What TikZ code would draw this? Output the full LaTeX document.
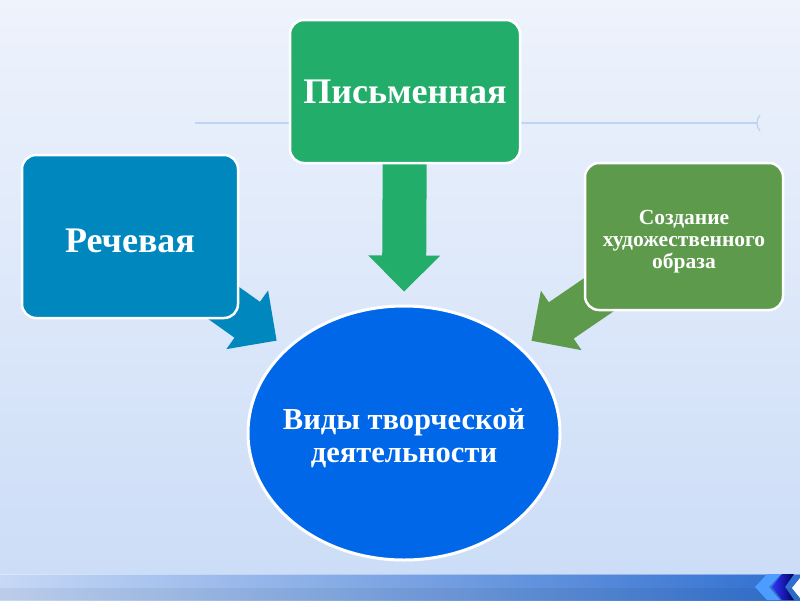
\documentclass[tikz,border=0pt]{standalone}
\usepackage{fontspec}
\setmainfont{Liberation Serif}
\usetikzlibrary{arrows.meta,calc,shapes.geometric}
\definecolor{bgtop}{HTML}{EEF3FC}
\definecolor{bgbottom}{HTML}{CCDDF7}
\definecolor{rulecol}{HTML}{BFD3F3}
\definecolor{barleft}{HTML}{C6D8F6}
\definecolor{barright}{HTML}{2F6FD0}
\definecolor{piscol}{HTML}{23AD6A}
\definecolor{rechcol}{HTML}{0087BE}
\definecolor{sozdcol}{HTML}{5E9A4B}
\definecolor{vidcol}{HTML}{0068E8}
\pgfdeclarelayer{back}
\pgfdeclarelayer{links}
\pgfsetlayers{back,links,main}
% block arrow: #1 colour, #2 tail node, #3 tip coordinate
\newcommand\fatlink[3]{%
  \fill[#1] ($(#2)!22pt!90:(#3)$) -- ($(#3)!36pt!(#2)!22pt!90:(#3)$) -- ($(#3)!36pt!(#2)!36pt!90:(#3)$)
    -- (#3) -- ($(#3)!36pt!(#2)!36pt!-90:(#3)$) -- ($(#3)!36pt!(#2)!22pt!-90:(#3)$) -- ($(#2)!22pt!-90:(#3)$) -- cycle;}

\begin{document}
\begin{tikzpicture}[x=1pt,y=-1pt,line cap=round,line join=round,
    box/.style={draw=white,line width=2.5pt,rounded corners=14pt,text=white,align=center,inner sep=0pt}]
    \useasboundingbox (0,0) rectangle (800,600);

    % slide background
    \begin{pgfonlayer}{back}
      \shade[top color=bgtop,bottom color=bgbottom] (0,0) rectangle (800,574);
      \draw[rulecol,line width=1.3pt] (195,123) -- (757,123);
      \draw[rulecol,line width=1.3pt] (760,115) .. controls (756,119) and (756,127) .. (760,131);
      \shade[left color=barleft,right color=barright] (0,574) rectangle (800,600);
      \fill[black,opacity=0.05] (0,588) rectangle (800,600);
      \draw[white,opacity=0.4,line width=0.8pt] (0,574) -- (800,574);
      \fill[blue!55!cyan!70!white] (767,574) -- (755,587) -- (767,600) -- (780,600) -- (769,587) -- (781,574) -- cycle;
      \shade[left color=blue!80!white,right color=blue!40!black] (782,574) -- (772,587) -- (782,600) -- (794,600) -- (785,587) -- (794,574) -- cycle;
      \fill[white] (800,578) -- (792,588) -- (800,598) -- cycle;
    \end{pgfonlayer}

    \node[box,fill=piscol,minimum width=230pt,minimum height=143pt,font=\bfseries\fontsize{36}{40}\selectfont] (pis) at (405,91.5) {Письменная};
    \node[box,fill=rechcol,minimum width=216pt,minimum height=163pt] (rech) at (130,236.5) {};
    \node[text=white,font=\bfseries\fontsize{36}{40}\selectfont] (rechtext) at ([yshift=-4pt]rech.center) {Речевая};
    \node[box,fill=sozdcol,minimum width=198pt,minimum height=147pt] (sozd) at (684,236.5) {};
    \node[text=white,align=center,font=\bfseries\fontsize{21.5}{22}\selectfont] (sozdtext) at ([yshift=-5pt]sozd.center) {Создание\\художественного\\образа};
    \node[ellipse,draw=white,line width=3pt,fill=vidcol,inner sep=0pt,minimum width=312pt,minimum height=254pt] (vid) at (404,433) {};
    \node[text=white,align=center,font=\bfseries\fontsize{30.5}{33}\selectfont] (vidtext) at ([yshift=-5pt]vid.center) {Виды творческой\\деятельности};

    % arrows into the ellipse
    \coordinate (rechtip) at ($(vid.144)!12pt!(rech.center)$);
    \coordinate (pistip) at ($(vid.north)!13pt!(pis.center)$);
    \coordinate (sozdtip) at ($(vid.36)!12pt!(sozd.center)$);
    \begin{pgfonlayer}{links}
      \fatlink{rechcol}{rech.center}{rechtip}
      \fatlink{piscol}{pis.center}{pistip}
      \fatlink{sozdcol}{sozd.center}{sozdtip}
    \end{pgfonlayer}
  \end{tikzpicture}
\end{document}
